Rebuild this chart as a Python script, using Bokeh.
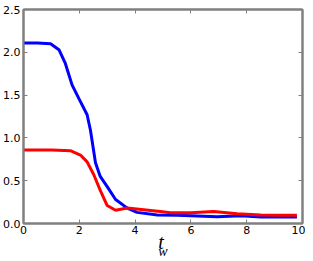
from bokeh.plotting import figure
from bokeh.models import Range1d, LinearAxis, FixedTicker
from bokeh.embed import file_html
from bokeh.resources import INLINE

blue_t = [0, 0.5, 0.97, 1.27, 1.5, 1.74, 2.0, 2.28, 2.4, 2.58, 2.75, 3.0, 3.3, 3.72, 4.07, 4.8, 5.5, 6.0, 6.94, 7.8, 8.5, 9.2, 9.8]
blue_y = [2.11, 2.11, 2.10, 2.03, 1.87, 1.62, 1.45, 1.27, 1.09, 0.71, 0.55, 0.43, 0.28, 0.18, 0.13, 0.10, 0.095, 0.09, 0.08, 0.09, 0.075, 0.075, 0.075]
red_t = [0, 1.0, 1.68, 2.04, 2.28, 2.52, 2.76, 3.0, 3.3, 3.72, 4.31, 4.9, 5.27, 6.0, 6.82, 7.66, 8.5, 9.2, 9.8]
red_y = [0.86, 0.86, 0.85, 0.80, 0.72, 0.57, 0.38, 0.21, 0.155, 0.18, 0.16, 0.14, 0.125, 0.125, 0.14, 0.115, 0.10, 0.095, 0.095]
x_ticks = [0, 2, 4, 6, 8, 10]
y_ticks = [0.0, 0.5, 1.0, 1.5, 2.0, 2.5]
y_tick_labels = {0.0: "0.0", 0.5: "0.5", 1.0: "1.0", 1.5: "1.5", 2.0: "2.0", 2.5: "2.5"}

W, H = 305, 261
p = figure(width=W, height=H, output_backend="svg", toolbar_location=None,
           x_range=Range1d(0, 10), y_range=Range1d(0, 2.5),
           min_border_left=23, min_border_right=3, min_border_top=9, min_border_bottom=30,
           styles={"margin-left": "0px", "margin-top": "0px"})
p.background_fill_color = "white"
p.border_fill_color = "white"
p.grid.visible = False
p.outline_line_color = "#808080"
p.outline_line_width = 2

p.line(blue_t, blue_y, line_color="#0000ff", line_width=3)
p.line(red_t, red_y, line_color="#ff0000", line_width=3)

gray = "#808080"
for ax in [p.xaxis[0], p.yaxis[0]]:
    ax.axis_line_color = gray
    ax.axis_line_width = 2
    ax.major_tick_line_color = gray
    ax.major_tick_in = 4
    ax.major_tick_out = 0
    ax.minor_tick_line_color = None
    ax.major_label_text_font = "DejaVu Sans"
    ax.major_label_text_font_size = "11px"
    ax.major_label_text_color = "black"
    ax.major_label_standoff = 2
p.xaxis[0].ticker = FixedTicker(ticks=x_ticks)
p.yaxis[0].ticker = FixedTicker(ticks=y_ticks)
p.yaxis[0].major_label_overrides = y_tick_labels
p.yaxis[0].major_label_standoff = 3

# axis label "t" (main symbol of t_w)
xa = p.xaxis[0]
xa.axis_label = "t\u2009"
xa.axis_label_text_font = "Liberation Serif"
xa.axis_label_text_font_style = "italic"
xa.axis_label_text_font_size = "20px"
xa.axis_label_text_color = "black"
xa.axis_label_text_align = "right"
xa.axis_label_standoff = -6

# subscript "w" as the label of a bare axis below
sub = LinearAxis(ticker=FixedTicker(ticks=[]), axis_line_color=None,
                 major_tick_line_color=None, minor_tick_line_color=None,
                 major_label_text_font_size="0px", major_label_standoff=0,
                 axis_label="w", axis_label_text_font="Liberation Serif",
                 axis_label_text_font_style="italic", axis_label_text_font_size="14px",
                 axis_label_text_color="black", axis_label_text_align="center",
                 axis_label_standoff=-12, axis_label_text_baseline="alphabetic")
p.add_layout(sub, "below")

top = LinearAxis(ticker=FixedTicker(ticks=x_ticks))
right = LinearAxis(ticker=FixedTicker(ticks=y_ticks))
for ax in [top, right]:
    ax.axis_line_color = gray
    ax.axis_line_width = 2
    ax.major_tick_line_color = gray
    ax.major_tick_in = 4
    ax.major_tick_out = 0
    ax.minor_tick_line_color = None
    ax.major_label_text_font_size = "0px"
    ax.major_label_text_alpha = 0
    ax.major_label_standoff = 0
p.add_layout(top, "above")
p.add_layout(right, "right")

open("out.html", "w").write(file_html(p, INLINE))
